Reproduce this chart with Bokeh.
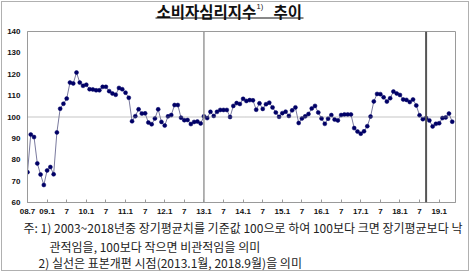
from bokeh.plotting import figure
from bokeh.layouts import column
from bokeh.models import Range1d, FixedTicker, Span, Label, ColumnDataSource
from bokeh.embed import file_html
from bokeh.resources import INLINE

# ---- data (monthly, starting 2008.7) ----
start_year = 2008
start_month = 7
csi = [
    74.2, 91.8, 90.6, 78.3, 73.1, 68.2, 75.0, 76.6, 73.2, 92.8,
    103.9, 106.2, 108.6, 116.1, 115.7, 120.8, 116.1, 114.6, 115.1, 113.0,
    112.9, 112.5, 112.5, 114.1, 114.1, 112.1, 111.0, 110.4, 113.6, 113.0,
    111.4, 109.0, 98.0, 100.4, 103.6, 101.6, 101.7, 97.4, 96.6, 99.3,
    103.6, 97.7, 96.0, 100.3, 100.9, 105.6, 105.6, 99.7, 98.5, 98.6,
    96.7, 97.7, 97.9, 97.0, 100.3, 99.5, 102.4, 100.5, 102.4, 103.3,
    103.3, 103.3, 100.0, 105.2, 106.5, 106.1, 108.5, 107.5, 107.9, 107.8,
    103.4, 106.4, 103.8, 106.0, 106.7, 104.5, 102.1, 100.1, 101.8, 102.5,
    100.5, 103.1, 104.5, 97.2, 99.3, 100.3, 101.4, 104.0, 105.2, 102.1,
    99.3, 96.8, 99.2, 100.9, 98.8, 98.4, 100.9, 101.2, 101.2, 101.2,
    94.8, 93.2, 92.2, 93.3, 95.7, 100.2, 107.3, 110.8, 110.7, 109.2,
    107.2, 108.8, 111.9, 111.0, 110.3, 108.2, 108.0, 107.0, 108.2, 105.4,
    100.8, 99.0, 99.5, 98.4, 95.6, 96.8, 97.1, 99.5, 99.8, 101.6,
    97.8,
]
x_tick_labels = ["08.7", "09.1", "7", "10.1", "7", "11.1", "7", "12.1", "7", "13.1", "7",
                 "14.1", "7", "15.1", "7", "16.1", "7", "17.1", "7", "18.1", "7", "19.1"]
y_ticks = [60, 70, 80, 90, 100, 110, 120, 130, 140]
baseline = 100
revisions = [(2013, 1), (2018, 9)]

title_main = "소비자심리지수"
title_sup = "1)"
title_tail = "추이"
notes = [
    "주: 1) 2003~2018년중 장기평균치를 기준값 100으로 하여 100보다 크면 장기평균보다 낙",
    "관적임을, 100보다 작으면 비관적임을 의미",
    "2) 실선은 표본개편 시점(2013.1월, 2018.9월)을 의미",
]


def month_index(y, m):
    return (y - start_year) * 12 + (m - start_month)


W = 470
HT, HM, HN = 26, 194, 52   # title strip, main chart, notes strip
FL, FR = 27, 455           # frame left / right (canvas px)
kfont = "Noto Sans CJK KR"


def strip(h):
    # full-canvas frame; data x == canvas x, data y == px from strip top
    f = figure(width=W, height=h, output_backend="svg", toolbar_location=None,
               x_range=Range1d(0, W), y_range=Range1d(h, 0),
               x_axis_location=None, y_axis_location=None,
               min_border_left=0, min_border_right=0,
               min_border_top=0, min_border_bottom=0, frame_align=False)
    f.outline_line_color = None
    f.background_fill_color = None
    f.border_fill_color = None
    f.xgrid.visible = False
    f.ygrid.visible = False
    return f


# ---- title strip ----
ft = strip(HT)
ft.add_layout(Label(x=156, y=10, text=title_main, text_font=kfont, text_font_size="15.5px",
                    text_font_style="bold", text_baseline="middle", text_align="left",
                    text_color="#111111"))
ft.add_layout(Label(x=256, y=6, text=title_sup, text_font="Liberation Sans",
                    text_font_size="7.5px", text_baseline="middle", text_align="left",
                    text_color="#111111"))
ft.add_layout(Label(x=273, y=10, text=title_tail, text_font=kfont, text_font_size="15.5px",
                    text_font_style="bold", text_baseline="middle", text_align="left",
                    text_color="#111111"))
ft.segment(x0=[155], y0=[17.5], x1=[303], y1=[17.5], line_color="#111111", line_width=1)

# ---- main chart ----
xs = list(range(len(csi)))
src = ColumnDataSource(dict(x=xs, y=csi))

p = figure(width=W, height=HM, output_backend="svg", toolbar_location=None,
           x_range=Range1d(0, 131), y_range=Range1d(60, 140),
           min_border_left=FL, min_border_right=W - FR,
           min_border_top=5, min_border_bottom=18, frame_align=False)
p.background_fill_color = None
p.border_fill_color = None
p.outline_line_color = "#9a9a9a"
p.outline_line_width = 1
p.xgrid.visible = False
p.ygrid.visible = False

tick_pos = [i * 6 for i in range(len(x_tick_labels))]
p.xaxis.ticker = FixedTicker(ticks=tick_pos)
p.xaxis.major_label_overrides = {t: l for t, l in zip(tick_pos, x_tick_labels)}
p.yaxis.ticker = FixedTicker(ticks=y_ticks)
for ax in (p.xaxis, p.yaxis):
    ax.axis_line_color = "#9a9a9a"
    ax.major_tick_line_color = "#9a9a9a"
    ax.minor_tick_line_color = None
    ax.major_label_text_font = "Liberation Sans"
    ax.major_label_text_font_size = "8px"
    ax.major_label_text_font_style = "bold"
    ax.major_label_text_color = "#111111"
p.xaxis.major_tick_in = 3
p.xaxis.major_tick_out = 0
p.xaxis.major_label_standoff = 6
p.yaxis.major_tick_in = 0
p.yaxis.major_tick_out = 0
p.yaxis.major_label_standoff = 7

p.add_layout(Span(location=baseline, dimension="width", line_color="#8a8a8a",
                  line_dash="1 1", line_width=1))
rev_colors = ["#9a9a9a", "#555555"]
rev_widths = [1.5, 2]
for (yy, mm), c, w in zip(revisions, rev_colors, rev_widths):
    p.add_layout(Span(location=month_index(yy, mm), dimension="height",
                      line_color=c, line_width=w))

p.line("x", "y", source=src, line_color="#7a7a9e", line_width=1)
p.scatter("x", "y", source=src, marker="circle", size=4,
          fill_color="#000066", line_color="#000066", line_width=0.5)

# ---- notes strip ----
fn = strip(HN)
note_pos = [(23, 7), (49, 25.5), (38, 42)]
for t, (cx, cy) in zip(notes, note_pos):
    fn.add_layout(Label(x=cx, y=cy, text=t, text_font=kfont, text_font_size="12px",
                        text_baseline="middle", text_align="left", text_color="#222222"))

layout = column(ft, p, fn, spacing=0,
                styles={"box-shadow": "inset 0 0 0 1px #ffffff, inset 0 0 0 2px #b0b0b0",
                        "background-color": "#ffffff"})

open("out.html", "w").write(file_html(layout, INLINE))
